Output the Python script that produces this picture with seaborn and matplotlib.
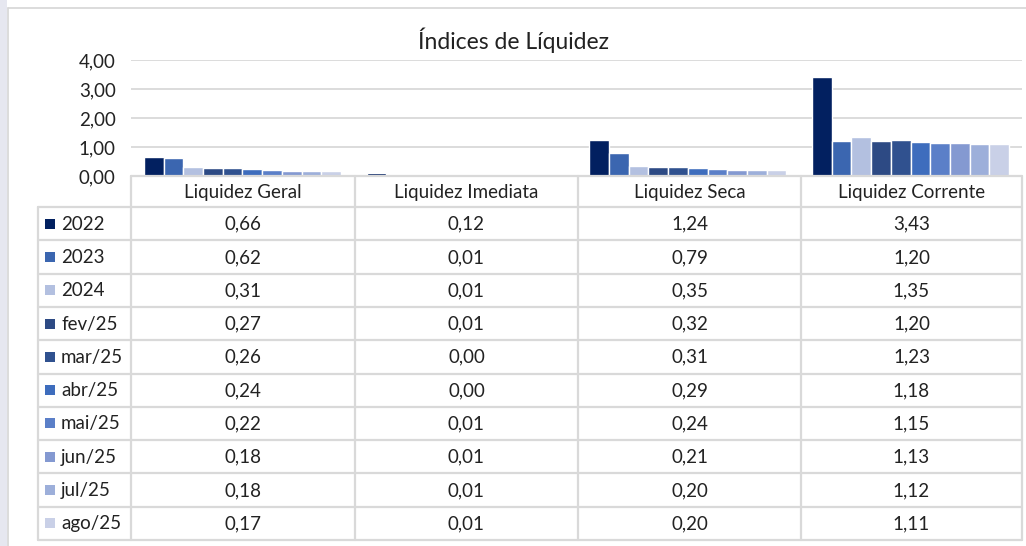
import matplotlib
matplotlib.use("Agg")
import matplotlib.pyplot as plt
import seaborn as sns
import pandas as pd
from matplotlib.ticker import FuncFormatter
from matplotlib.lines import Line2D
from matplotlib.patches import Rectangle

categories = ["Liquidez Geral", "Liquidez Imediata", "Liquidez Seca", "Liquidez Corrente"]
series = ["2022", "2023", "2024", "fev/25", "mar/25", "abr/25", "mai/25", "jun/25", "jul/25", "ago/25"]
liq_geral = [0.66, 0.62, 0.31, 0.27, 0.26, 0.24, 0.22, 0.18, 0.18, 0.17]
liq_imediata = [0.12, 0.01, 0.01, 0.01, 0.00, 0.00, 0.01, 0.01, 0.01, 0.01]
liq_seca = [1.24, 0.79, 0.35, 0.32, 0.31, 0.29, 0.24, 0.21, 0.20, 0.20]
liq_corrente = [3.43, 1.20, 1.35, 1.20, 1.23, 1.18, 1.15, 1.13, 1.12, 1.11]
colors = ["#022060", "#3B66B0", "#B3C0E0", "#2D4A84", "#30518F",
          "#3E6DBD", "#5B7FC8", "#8499D1", "#9DAFDA", "#C9D0E7"]
yticks = [0, 1, 2, 3, 4]
title = "Índices de Líquidez"

values = [liq_geral, liq_imediata, liq_seca, liq_corrente]
rows = []
for c, vals in zip(categories, values):
    for s, v in zip(series, vals):
        rows.append({"cat": c, "serie": s, "val": v})
df = pd.DataFrame(rows)

sns.set_theme(style="white")
plt.rcParams["font.family"] = ["Lato", "DejaVu Sans"]

W, H = 1026, 546
fig = plt.figure(figsize=(W / 100, H / 100), dpi=100)
fig.patch.set_facecolor("white")

def fx(px):
    return px / W

def fy(py):
    return 1 - py / H

FS = 13.5
left, right, top, bottom = 131, 1022, 60, 176
ax = fig.add_axes([fx(left), fy(bottom), fx(right - left), (bottom - top) / H])
sns.barplot(data=df, x="cat", y="val", hue="serie", palette=colors, order=categories,
            hue_order=series, width=0.885, gap=0, saturation=1, legend=False, ax=ax)
ax.set_ylim(0, 4)
ax.set_xlim(-0.5, 3.5)
ax.set_yticks(yticks)
ax.yaxis.set_major_formatter(FuncFormatter(lambda v, p: f"{v:.2f}".replace(".", ",")))
ax.tick_params(axis="y", labelsize=FS, colors="#222222", length=0, pad=11)
ax.set_xticks([])
ax.set_xlabel("")
ax.set_ylabel("")
ax.grid(axis="y", color="#D9D9D9", linewidth=1.3)
ax.set_axisbelow(True)
for sp in ax.spines.values():
    sp.set_visible(False)
ax.set_facecolor("none")

# overlays for table / decorations
ov = fig.add_axes([0, 0, 1, 1], zorder=-1)
ov.set_xlim(0, W)
ov.set_ylim(H, 0)
ov.axis("off")
ov2 = fig.add_axes([0, 0, 1, 1], zorder=5)
ov2.set_xlim(0, W)
ov2.set_ylim(H, 0)
ov2.axis("off")
ov2.patch.set_alpha(0)

ov.add_patch(Rectangle((0, 0), 7, H, color="#E6E7F0", lw=0))
ov.add_line(Line2D([8, 8], [8, H], color="#D6D6D6", lw=1.2))
ov.add_line(Line2D([8, W], [8, 8], color="#D6D6D6", lw=1.2))

ov2.text(513, 40, title, ha="center", va="center", fontsize=16.5, color="#222222")

lc = "#D9D9D9"
lw = 1.6
col_x = [131, 355, 578, 801, 1022]
header_top, header_bot, table_bot = 176, 207, 540
row_h = (table_bot - header_bot) / len(series)

ov2.add_line(Line2D([col_x[0], col_x[-1]], [header_top, header_top], color=lc, lw=lw))
for x in col_x:
    ov2.add_line(Line2D([x, x], [header_top, table_bot], color=lc, lw=lw))
ov2.add_line(Line2D([38, 38], [header_bot, table_bot], color=lc, lw=lw))
for i in range(len(series) + 1):
    y = header_bot + i * row_h
    ov2.add_line(Line2D([38, col_x[-1]], [y, y], color=lc, lw=lw))

for j, c in enumerate(categories):
    cx = (col_x[j] + col_x[j + 1]) / 2
    ov2.text(cx, (header_top + header_bot) / 2 + 1, c, ha="center", va="center",
             fontsize=FS, color="#222222")

for i, s in enumerate(series):
    cy = header_bot + (i + 0.5) * row_h
    ov2.add_patch(Rectangle((45, cy - 5), 10, 10, color=colors[i], lw=0))
    ov2.text(61, cy + 0.5, s, ha="left", va="center", fontsize=FS, color="#222222")
    for j, vals in enumerate(values):
        cx = (col_x[j] + col_x[j + 1]) / 2
        ov2.text(cx, cy + 0.5, f"{vals[i]:.2f}".replace(".", ","), ha="center", va="center",
                 fontsize=FS, color="#222222")

fig.savefig("out.png", dpi=100)
